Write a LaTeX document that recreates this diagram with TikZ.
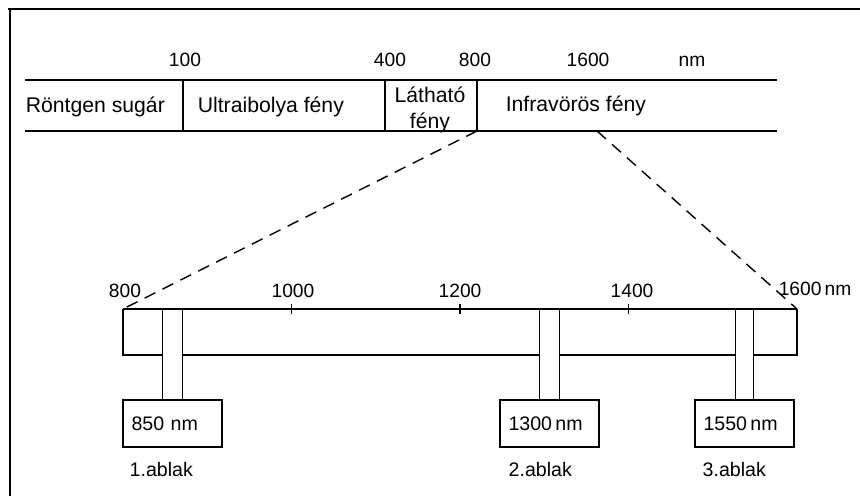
\documentclass[tikz,border=0pt]{standalone}
\usepackage{fontspec}
\setmainfont{Liberation Sans}
\usetikzlibrary{calc}

\begin{document}
\begin{tikzpicture}[x=0.5pt, y=-0.5pt, line width=0.8pt,
		lbl/.style={font=\fontsize{10.6}{11}\selectfont, inner sep=0pt},
		num/.style={font=\fontsize{9.6}{12}\selectfont, inner sep=0pt, anchor=base},
		winbox/.style={draw, line width=1.1pt, minimum width=49.5pt, minimum height=23.5pt, text width=41pt, align=left, inner xsep=4pt, font=\fontsize{9.8}{12}\selectfont},
		zoomline/.style={dash pattern=on 6pt off 4pt, line width=0.7pt}]
		\useasboundingbox (0,0) rectangle (860,496);
		\draw (8,9) -- (860,9);
		\draw (10,9) -- (10,496);
		\draw[black] (25,80) -- (777,80);
		\draw[black] (25,131) -- (777,131);
		\draw[black] (183,80) -- (183,131);
		\draw[black] (385,80) -- (385,131);
		\draw[black] (477,80) -- (477,131);
		\node[num] (n100) at (185,67) {100};
		\node[num] (n400) at (390,67) {400};
		\node[num] (n800) at (475,67) {800};
		\node[num] (n1600) at (588,67) {1600};
		\node[num] (nnm) at (692,67) {nm};
		\node[lbl, anchor=base west] (xray) at (25,113) {Röntgen sugár};
		\node[lbl, anchor=base west] (uv) at (197,113) {Ultraibolya fény};
		\node[lbl, align=center] (vis) at (430,110) {Látható\\[2pt]fény};
		\node[lbl, anchor=base west] (ir) at (505,112) {Infravörös fény};
		\coordinate (vislow) at (477,131);
		\coordinate (irlow) at (597,131);
		\coordinate (b800) at (123,309);
		\coordinate (b1600) at (797,309);
		\coordinate (bandlow) at (123,355);
		\node[winbox] (w1) at (172.5,423.5) {850 nm};
		\node[winbox] (w2) at (549.5,423.5) {1300\,nm};
		\node[winbox] (w3) at (744.5,423.5) {1550\,nm};
		\draw (b800) -- (b1600);
		\draw (b800) -- (bandlow) -- ([xshift=-5pt]w1.north |- bandlow);
		\draw ([xshift=5pt]w1.north |- bandlow) -- ([xshift=-5pt]w2.north |- bandlow);
		\draw ([xshift=5pt]w2.north |- bandlow) -- ([xshift=-4.5pt]w3.north |- bandlow);
		\draw ([xshift=4.5pt]w3.north |- bandlow) -- (b1600 |- bandlow) -- (b1600);
		\draw ([xshift=-5pt]w1.north) -- ([xshift=-5pt]w1.north |- b800);
		\draw ([xshift=5pt]w1.north) -- ([xshift=5pt]w1.north |- b800);
		\draw ([xshift=-5pt]w2.north) -- ([xshift=-5pt]w2.north |- b800);
		\draw ([xshift=5pt]w2.north) -- ([xshift=5pt]w2.north |- b800);
		\draw ([xshift=-4.5pt]w3.north) -- ([xshift=-4.5pt]w3.north |- b800);
		\draw ([xshift=4.5pt]w3.north) -- ([xshift=4.5pt]w3.north |- b800);
		\foreach \x in {291.5,460,628.5}
			\draw[line width=0.6pt] (\x,304) -- (\x,314);
		\node[num] (s800) at (125,297) {800};
		\node[num] (s1000) at (293,297) {1000};
		\node[num] (s1200) at (460,297) {1200};
		\node[num] (s1400) at (632,297) {1400};
		\node[num, anchor=base west] (s1600) at (778,295) {1600\,nm};
		\draw[zoomline] (vislow) -- (b800);
		\draw[zoomline] (irlow) -- (b1600);
		\node[lbl, font=\fontsize{9.8}{12}\selectfont, anchor=base west] (a1) at ([xshift=3.5pt, yshift=-14pt]w1.south west) {1.ablak};
		\node[lbl, font=\fontsize{9.8}{12}\selectfont, anchor=base west] (a2) at ([xshift=4.5pt, yshift=-14pt]w2.south west) {2.ablak};
		\node[lbl, font=\fontsize{9.8}{12}\selectfont, anchor=base west] (a3) at ([xshift=4pt, yshift=-14pt]w3.south west) {3.ablak};
	\end{tikzpicture}
\end{document}
